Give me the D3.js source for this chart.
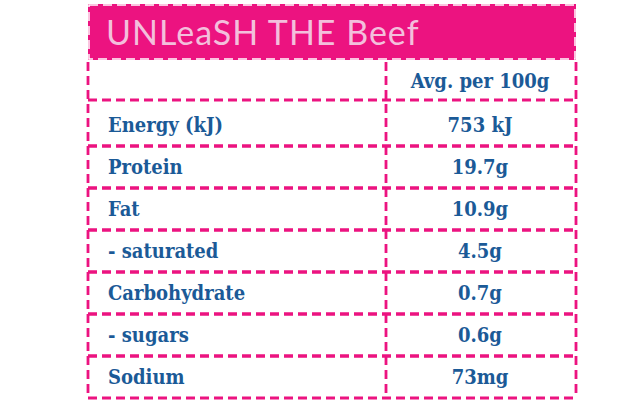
<!DOCTYPE html>
<html><head><meta charset="utf-8">
<script src="https://cdn.jsdelivr.net/npm/d3@7"></script>
<style>body{margin:0;background:#fff}</style></head>
<body><svg id="c" width="643" height="400"></svg>
<script>
const title = "UNLeaSH THE Beef";
const header = "Avg. per 100g";
const nutrients = ["Energy (kJ)","Protein","Fat","- saturated","Carbohydrate","- sugars","Sodium"];
const amounts = ["753 kJ","19.7g","10.9g","4.5g","0.7g","0.6g","73mg"];

const svg = d3.select("#c");
const pink = "#ec1380", blue = "#1b5a97";
const font = "'DejaVu Serif Condensed','DejaVu Serif', serif";
const x0 = 88, xm = 386, x1 = 576;
const y = d3.scaleBand().domain(d3.range(nutrients.length)).range([104, 398]);
const dash = "9,5";

svg.append("rect").attr("x",x0).attr("y",4).attr("width",x1-x0).attr("height",56).attr("fill",pink);
svg.append("rect").attr("x",x0+1).attr("y",5).attr("width",x1-x0-2).attr("height",54)
  .attr("fill","none").attr("stroke","#fff").attr("stroke-width",1.5).attr("stroke-dasharray",dash);
svg.append("text").attr("x",106).attr("y",45).text(title)
  .attr("fill","#f3bfdc").attr("font-family","Lato, sans-serif").attr("font-size",34)
  .attr("letter-spacing",1);

const line = (xa,ya,xb,yb)=>svg.append("line").attr("x1",xa).attr("y1",ya).attr("x2",xb).attr("y2",yb)
  .attr("stroke",pink).attr("stroke-width",2.8).attr("stroke-dasharray",dash);

line(x0,62,x0,100); line(x1,62,x1,100); line(xm,62,xm,398);
line(x0,100,x1,100);
const txt = (x,yy,s,anchor)=>svg.append("text").attr("x",x).attr("y",yy).attr("text-anchor",anchor).text(s)
  .attr("fill",blue).attr("font-family",font).attr("font-weight","bold").attr("font-size",20);
txt(480,88,header,"middle");

nutrients.forEach((n,i)=>{
  const t = y(i), b = t + y.bandwidth();
  line(x0,t,x0,b); line(x1,t,x1,b); line(x0,b,x1,b);
  if(i>0) line(x0,t,x1,t);
  txt(108,t+y.bandwidth()/2+7,n,"start");
  txt(480,t+y.bandwidth()/2+7,amounts[i],"middle");
});
</script></body></html>
